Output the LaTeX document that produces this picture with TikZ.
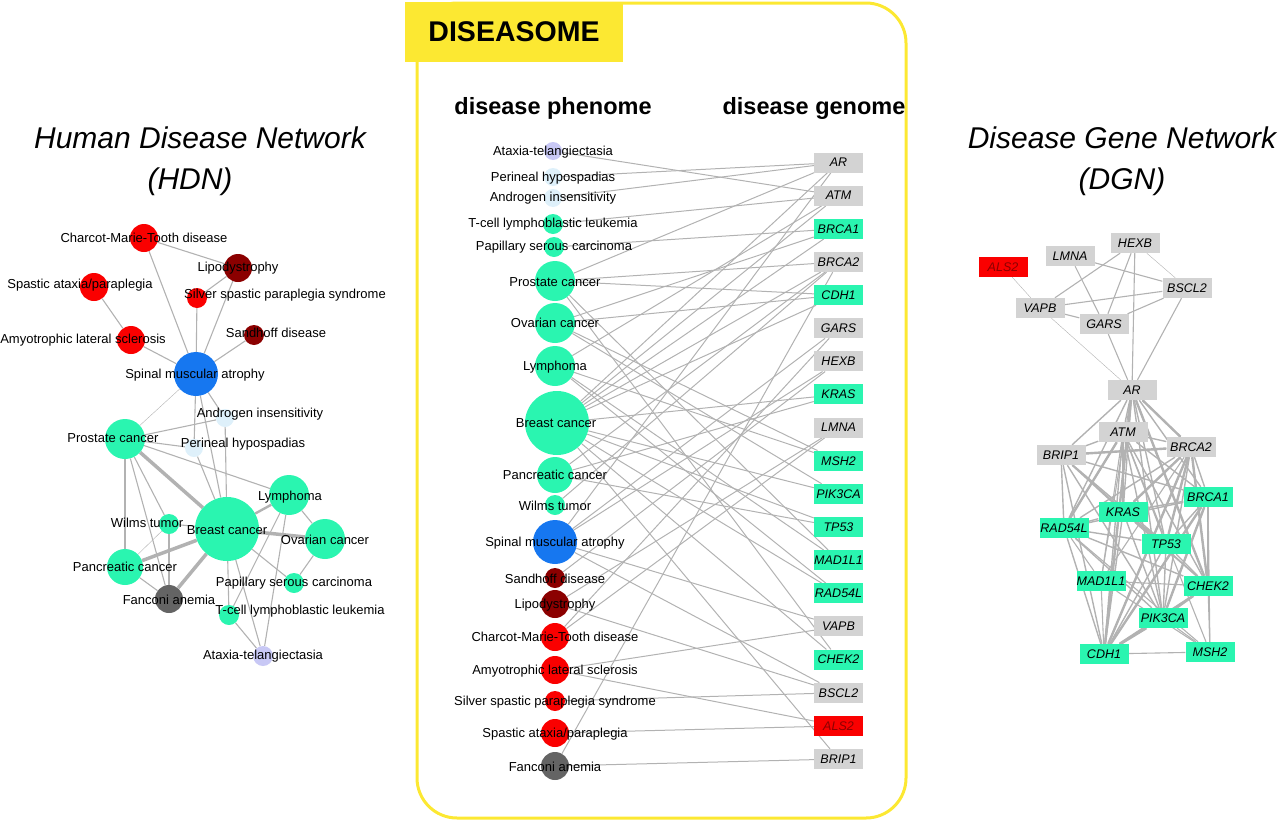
\documentclass[tikz,border=0pt]{standalone}
\usepackage{fontspec}
\setmainfont{Liberation Sans}
\usetikzlibrary{backgrounds}
\definecolor{hdgreen}{RGB}{42,245,176}
\definecolor{hdblue}{RGB}{22,119,240}
\definecolor{hddarkred}{RGB}{139,0,0}
\definecolor{hdred}{RGB}{250,0,0}
\definecolor{hdgray}{RGB}{100,100,100}
\definecolor{hdlav}{RGB}{200,200,245}
\definecolor{hdpale}{RGB}{222,240,250}
\definecolor{genegray}{RGB}{211,211,211}
\definecolor{edgegray}{RGB}{178,178,178}
\definecolor{dsyellow}{RGB}{252,232,50}
\tikzset{
  dis/.style={circle,inner sep=0pt,minimum size=#1},
  lbl/.style={font=\fontsize{13}{15}\selectfont,inner sep=0pt},
  gene/.style={rectangle,minimum width=49pt,minimum height=20pt,inner sep=0pt,
    font=\fontsize{12.5}{14}\selectfont\itshape},
  gg/.style={fill=genegray},
  gn/.style={fill=hdgreen},
  gr/.style={fill=hdred,text=hddarkred},
  lnk/.style={draw=edgegray,line width=1.1pt},
  lnkwide/.style={lnk,line width=3.5pt},
  lnkthick/.style={lnk,line width=2.4pt},
  lnkfaint/.style={lnk,line width=0.4pt},
  ttl/.style={font=\fontsize{30}{34}\selectfont\itshape},
  hdr/.style={font=\fontsize{23.5}{26}\selectfont\bfseries},
}
\begin{document}
\begin{tikzpicture}[x=1pt,y=-1pt]
\useasboundingbox (0,0) rectangle (1280,822);
% diseasome frame
\draw[dsyellow,line width=3pt,rounded corners=40pt] (417,3) rectangle (906,818);
\node[fill=dsyellow,minimum width=218pt,minimum height=60pt,inner sep=0pt,
  font=\fontsize{28.5}{30}\selectfont\bfseries] (tab) at (514,32) {DISEASOME};
\node[hdr] (phenome) at (553,108) {disease phenome};
\node[hdr] (genome) at (814,108) {disease genome};
% titles
\node[ttl] (hdn) at (200,138) {Human Disease Network};
\node[ttl] (hdn2) at (190,182) {(HDN)};
\node[ttl] (dgn) at (1122,138) {Disease Gene Network};
\node[ttl] (dgn2) at (1122,182) {(DGN)};

% ---- HDN ----
\node[dis=28pt,fill=hdred] (h-cmt) at (144,238) {};
\node[dis=28pt,fill=hddarkred] (h-lipo) at (238,268) {};
\node[dis=28pt,fill=hdred] (h-spastic) at (94,287) {};
\node[dis=20pt,fill=hdred] (h-silver) at (197,298) {};
\node[dis=28pt,fill=hdred] (h-als) at (131,340) {};
\node[dis=20pt,fill=hddarkred] (h-sandhoff) at (254,335) {};
\node[dis=44pt,fill=hdblue] (h-sma) at (196,374) {};
\node[dis=18pt,fill=hdpale] (h-androgen) at (225,418) {};
\node[dis=40pt,fill=hdgreen] (h-prostate) at (125,439) {};
\node[dis=18pt,fill=hdpale] (h-perineal) at (194,448) {};
\node[dis=40pt,fill=hdgreen] (h-lymphoma) at (289,495) {};
\node[dis=64pt,fill=hdgreen] (h-breast) at (227,529) {};
\node[dis=20pt,fill=hdgreen] (h-wilms) at (169,524) {};
\node[dis=40pt,fill=hdgreen] (h-ovarian) at (325,539) {};
\node[dis=36pt,fill=hdgreen] (h-pancreatic) at (125,567) {};
\node[dis=20pt,fill=hdgreen] (h-papillary) at (294,583) {};
\node[dis=28pt,fill=hdgray] (h-fanconi) at (169,599) {};
\node[dis=20pt,fill=hdgreen] (h-tcell) at (229,615) {};
\node[dis=20pt,fill=hdlav] (h-ataxia) at (263,656) {};
\begin{scope}[on background layer]
\foreach \a/\b/\s in {cmt/lipo/lnk,cmt/sma/lnk,lipo/silver/lnk,lipo/sma/lnk,
  spastic/als/lnk,als/sma/lnk,silver/sma/lnk,sandhoff/sma/lnk,sma/prostate/lnkfaint,
  sma/androgen/lnk,sma/perineal/lnk,sma/breast/lnk,androgen/prostate/lnk,
  perineal/prostate/lnk,androgen/breast/lnk,perineal/breast/lnk,prostate/breast/lnkwide,
  prostate/lymphoma/lnk,prostate/pancreatic/lnk,prostate/wilms/lnk,prostate/fanconi/lnk,
  breast/lymphoma/lnkthick,breast/ovarian/lnkwide,breast/pancreatic/lnkwide,
  breast/fanconi/lnkwide,breast/wilms/lnk,breast/papillary/lnk,breast/tcell/lnk,
  breast/ataxia/lnk,lymphoma/ovarian/lnk,lymphoma/tcell/lnk,lymphoma/ataxia/lnk,
  ovarian/papillary/lnk,wilms/fanconi/lnk,wilms/pancreatic/lnkfaint,
  pancreatic/fanconi/lnk,tcell/ataxia/lnk}
  \draw[\s] (h-\a) -- (h-\b);
\end{scope}
\node[lbl] (h-cmt-l) at (144,238) {Charcot-Marie-Tooth disease};
\node[lbl] (h-lipo-l) at (238,268) {Lipodystrophy};
\node[lbl] (h-spastic-l) at (80,285) {Spastic ataxia/paraplegia};
\node[lbl] (h-silver-l) at (285,295) {Silver spastic paraplegia syndrome};
\node[lbl] (h-als-l) at (83,340) {Amyotrophic lateral sclerosis};
\node[lbl] (h-sandhoff-l) at (276,333) {Sandhoff disease};
\node[lbl] (h-sma-l) at (195,375) {Spinal muscular atrophy};
\node[lbl] (h-androgen-l) at (260,414) {Androgen insensitivity};
\node[lbl] (h-prostate-l) at (113,438) {Prostate cancer};
\node[lbl] (h-perineal-l) at (243,444) {Perineal hypospadias};
\node[lbl] (h-lymphoma-l) at (290,497) {Lymphoma};
\node[lbl] (h-breast-l) at (227,530) {Breast cancer};
\node[lbl] (h-wilms-l) at (147,523) {Wilms tumor};
\node[lbl] (h-ovarian-l) at (325,540) {Ovarian cancer};
\node[lbl] (h-pancreatic-l) at (125,567) {Pancreatic cancer};
\node[lbl] (h-papillary-l) at (294,583) {Papillary serous carcinoma};
\node[lbl] (h-fanconi-l) at (169,600) {Fanconi anemia};
\node[lbl] (h-tcell-l) at (300,611) {T-cell lymphoblastic leukemia};
\node[lbl] (h-ataxia-l) at (263,656) {Ataxia-telangiectasia};

% ---- diseasome: phenome / genome ----
\node[dis=18pt,fill=hdlav] (p-ataxia) at (553,151) {};
\node[dis=18pt,fill=hdpale] (p-perineal) at (553,177) {};
\node[dis=18pt,fill=hdpale] (p-androgen) at (553,198) {};
\node[dis=20pt,fill=hdgreen] (p-tcell) at (553,224) {};
\node[dis=20pt,fill=hdgreen] (p-papillary) at (554,247) {};
\node[dis=40pt,fill=hdgreen] (p-prostate) at (555,281) {};
\node[dis=40pt,fill=hdgreen] (p-ovarian) at (555,323) {};
\node[dis=40pt,fill=hdgreen] (p-lymphoma) at (555,366) {};
\node[dis=64pt,fill=hdgreen] (p-breast) at (557,423) {};
\node[dis=36pt,fill=hdgreen] (p-pancreatic) at (555,475) {};
\node[dis=20pt,fill=hdgreen] (p-wilms) at (555,505) {};
\node[dis=44pt,fill=hdblue] (p-sma) at (555,542) {};
\node[dis=20pt,fill=hddarkred] (p-sandhoff) at (555,578) {};
\node[dis=28pt,fill=hddarkred] (p-lipo) at (555,604) {};
\node[dis=28pt,fill=hdred] (p-cmt) at (555,637) {};
\node[dis=28pt,fill=hdred] (p-als) at (555,670) {};
\node[dis=20pt,fill=hdred] (p-silver) at (555,701) {};
\node[dis=28pt,fill=hdred] (p-spastic) at (555,733) {};
\node[dis=28pt,fill=hdgray] (p-fanconi) at (555,766) {};
\foreach \g/\s [count=\i from 0] in {AR/gg,ATM/gg,BRCA1/gn,BRCA2/gg,CDH1/gn,GARS/gg,
  HEXB/gg,KRAS/gn,LMNA/gg,MSH2/gn,PIK3CA/gn,TP53/gn,MAD1L1/gn,RAD54L/gn,VAPB/gg,
  CHEK2/gn,BSCL2/gg,ALS2/gr,BRIP1/gg}
  \node[gene,\s] (g-\g) at (838.5,162.5+33.14*\i) {\g};
\begin{scope}[on background layer]
\foreach \d/\g in {androgen/AR,perineal/AR,prostate/AR,breast/AR,sma/AR,
  ataxia/ATM,tcell/ATM,lymphoma/ATM,breast/ATM,
  papillary/BRCA1,breast/BRCA1,ovarian/BRCA1,
  breast/BRCA2,prostate/BRCA2,pancreatic/BRCA2,fanconi/BRCA2,wilms/BRCA2,
  breast/CDH1,ovarian/CDH1,prostate/CDH1,cmt/GARS,sma/GARS,sandhoff/HEXB,sma/HEXB,
  breast/KRAS,pancreatic/KRAS,lipo/LMNA,cmt/LMNA,lymphoma/MSH2,ovarian/MSH2,
  breast/PIK3CA,ovarian/PIK3CA,breast/TP53,pancreatic/TP53,lymphoma/MAD1L1,
  prostate/MAD1L1,breast/RAD54L,lymphoma/RAD54L,als/VAPB,sma/VAPB,
  breast/CHEK2,prostate/CHEK2,lipo/BSCL2,silver/BSCL2,sma/BSCL2,
  als/ALS2,spastic/ALS2,breast/BRIP1,fanconi/BRIP1}
  \draw[lnk,line width=1pt] (p-\d) -- (g-\g);
\end{scope}
\node[lbl] (p-ataxia-l) at (553,152) {Ataxia-telangiectasia};
\node[lbl] (p-perineal-l) at (553,178) {Perineal hypospadias};
\node[lbl] (p-androgen-l) at (553,198) {Androgen insensitivity};
\node[lbl] (p-tcell-l) at (553,224) {T-cell lymphoblastic leukemia};
\node[lbl] (p-papillary-l) at (554,247) {Papillary serous carcinoma};
\node[lbl] (p-prostate-l) at (555,282) {Prostate cancer};
\node[lbl] (p-ovarian-l) at (555,323) {Ovarian cancer};
\node[lbl] (p-lymphoma-l) at (555,367) {Lymphoma};
\node[lbl] (p-breast-l) at (556,423) {Breast cancer};
\node[lbl] (p-pancreatic-l) at (555,475) {Pancreatic cancer};
\node[lbl] (p-wilms-l) at (555,506) {Wilms tumor};
\node[lbl] (p-sma-l) at (555,543) {Spinal muscular atrophy};
\node[lbl] (p-sandhoff-l) at (555,579) {Sandhoff disease};
\node[lbl] (p-lipo-l) at (555,605) {Lipodystrophy};
\node[lbl] (p-cmt-l) at (555,637) {Charcot-Marie-Tooth disease};
\node[lbl] (p-als-l) at (555,671) {Amyotrophic lateral sclerosis};
\node[lbl] (p-silver-l) at (555,702) {Silver spastic paraplegia syndrome};
\node[lbl] (p-spastic-l) at (555,734) {Spastic ataxia/paraplegia};
\node[lbl] (p-fanconi-l) at (555,767) {Fanconi anemia};

% ---- DGN ----
\node[gene,gr] (n-ALS2) at (1003,267) {ALS2};
\node[gene,gg] (n-LMNA) at (1070,256) {LMNA};
\node[gene,gg] (n-HEXB) at (1135,243) {HEXB};
\node[gene,gg] (n-BSCL2) at (1187,288) {BSCL2};
\node[gene,gg] (n-VAPB) at (1040,308) {VAPB};
\node[gene,gg] (n-GARS) at (1104,324) {GARS};
\node[gene,gg] (n-AR) at (1132,390) {AR};
\node[gene,gg] (n-ATM) at (1123,432) {ATM};
\node[gene,gg] (n-BRCA2) at (1191,447) {BRCA2};
\node[gene,gg] (n-BRIP1) at (1061,455) {BRIP1};
\node[gene,gn] (n-BRCA1) at (1208,497) {BRCA1};
\node[gene,gn] (n-KRAS) at (1123,512) {KRAS};
\node[gene,gn] (n-RAD54L) at (1064,528) {RAD54L};
\node[gene,gn] (n-TP53) at (1166,544) {TP53};
\node[gene,gn] (n-MAD1L1) at (1101,581) {MAD1L1};
\node[gene,gn] (n-CHEK2) at (1208,586) {CHEK2};
\node[gene,gn] (n-PIK3CA) at (1163,618) {PIK3CA};
\node[gene,gn] (n-CDH1) at (1104,654) {CDH1};
\node[gene,gn] (n-MSH2) at (1210,652) {MSH2};
\begin{scope}[on background layer]
\foreach \a [count=\i] in {AR,ATM,BRCA1,BRCA2,CDH1,KRAS,PIK3CA,TP53,RAD54L,CHEK2,BRIP1}
  \foreach \b [count=\j] in {AR,ATM,BRCA1,BRCA2,CDH1,KRAS,PIK3CA,TP53,RAD54L,CHEK2,BRIP1}
    {\ifnum\j>\i \draw[lnk,line width=1.4pt] (n-\a) -- (n-\b);\fi}
\foreach \a/\b/\s in {HEXB/GARS/lnk,HEXB/AR/lnk,HEXB/VAPB/lnk,GARS/AR/lnk,GARS/VAPB/lnk,
  GARS/BSCL2/lnk,BSCL2/AR/lnk,BSCL2/VAPB/lnk,VAPB/AR/lnkfaint,HEXB/BSCL2/lnkfaint,
  LMNA/BSCL2/lnk,LMNA/GARS/lnk,ALS2/VAPB/lnkfaint,
  AR/MAD1L1/lnk,BRCA2/MAD1L1/lnk,CDH1/MAD1L1/lnk,MAD1L1/CHEK2/lnk,
  BRCA1/MSH2/lnk,CDH1/MSH2/lnk,MSH2/PIK3CA/lnk,CHEK2/MSH2/lnk,
  ATM/MSH2/lnk,ATM/MAD1L1/lnk,MSH2/MAD1L1/lnk,MSH2/RAD54L/lnk,MAD1L1/RAD54L/lnk,
  AR/BRCA2/lnkthick,AR/CDH1/lnkthick,AR/CHEK2/lnkthick,BRCA2/CDH1/lnkthick,
  BRCA2/CHEK2/lnkthick,CDH1/CHEK2/lnkthick,BRCA1/CDH1/lnkthick,BRCA1/PIK3CA/lnkthick,
  CDH1/PIK3CA/lnkthick,ATM/RAD54L/lnkthick,BRCA2/KRAS/lnkthick,BRCA2/TP53/lnkthick,
  KRAS/TP53/lnkthick,BRCA2/BRIP1/lnkthick}
  \draw[\s] (n-\a) -- (n-\b);
\end{scope}
\end{tikzpicture}
\end{document}
